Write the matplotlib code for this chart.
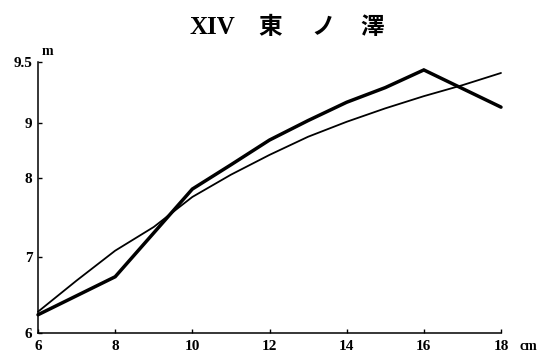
import numpy as np
import matplotlib
matplotlib.use("Agg")
import matplotlib.pyplot as plt
from matplotlib.scale import FuncScale

# ---- data ----
thick_x = [6, 8, 10, 11, 12, 13, 14, 15, 16, 18]
thick_y = [6.24, 6.74, 7.86, 8.24, 8.69, 9.02, 9.17, 9.29, 9.435, 9.13]

thin_x = [6, 7, 8, 9, 10, 11, 12, 13, 14, 15, 16, 17, 18]
thin_y = [6.28, 6.69, 7.08, 7.38, 7.76, 8.06, 8.42, 8.75, 9.01, 9.12, 9.22, 9.31, 9.41]

x_ticks = [6, 8, 10, 12, 14, 16, 18]
y_ticks = [6, 7, 8, 9, 9.5]
y_tick_labels = ["6", "7", "8", "9", "9.5"]

# non-linear vertical scale of the original drawing (anchor -> relative height)
scale_vals = np.array([6.0, 7.0, 8.0, 9.0, 9.5])
scale_pos = np.array([0.0, 76.0, 155.0, 210.0, 271.0])


def fwd(v):
    return np.interp(v, scale_vals, scale_pos)


def inv(p):
    return np.interp(p, scale_pos, scale_vals)


W, H = 556, 358
fig = plt.figure(figsize=(W / 100, H / 100), dpi=100)
ax = fig.add_axes([38 / W, 25 / H, 463 / W, 271 / H])

ax.set_yscale(FuncScale(ax, (fwd, inv)))

ax.plot(thin_x, thin_y, color="black", lw=1.3, solid_capstyle="round", clip_on=False)
ax.plot(thick_x, thick_y, color="black", lw=2.5, solid_joinstyle="miter",
        solid_capstyle="round", clip_on=False)

ax.set_xlim(6, 18)
ax.set_ylim(6, 9.5)

for s in ("top", "right"):
    ax.spines[s].set_visible(False)
for s in ("left", "bottom"):
    ax.spines[s].set_linewidth(1.1)

tick_font = dict(family="Liberation Serif", weight="bold", size=11)
ax.set_xticks(x_ticks)
ax.set_xticklabels([str(t) for t in x_ticks], fontdict=tick_font)
ax.set_yticks(y_ticks)
ax.set_yticklabels(y_tick_labels, fontdict=tick_font)
ax.tick_params(axis="x", direction="in", length=3, width=1.0, pad=5)
ax.tick_params(axis="y", direction="in", length=3, width=1.0, pad=4)

# unit labels
ax.text(0.008, 1.015, "m", transform=ax.transAxes, ha="left", va="bottom",
        family="Liberation Serif", weight="bold", fontsize=10)
ax.text(1.04, -0.048, "cm", transform=ax.transAxes, ha="left", va="center",
        family="Liberation Serif", weight="bold", fontsize=10)

# title
fig.text(190 / W, 1 - 27 / H, "XIV", ha="left", va="center",
         family="Liberation Serif", weight="bold", fontsize=18)
cjk = ["Noto Sans CJK JP", "DejaVu Sans"]
fig.text(270 / W, 1 - 27 / H, "東", ha="center", va="center",
         family=cjk, weight="bold", fontsize=17)
fig.text(323 / W, 1 - 27 / H, "ノ", ha="center", va="center",
         family=cjk, weight="bold", fontsize=17)
fig.text(372 / W, 1 - 27 / H, "澤", ha="center", va="center",
         family=cjk, weight="bold", fontsize=17)

fig.savefig("out.png", dpi=100)
